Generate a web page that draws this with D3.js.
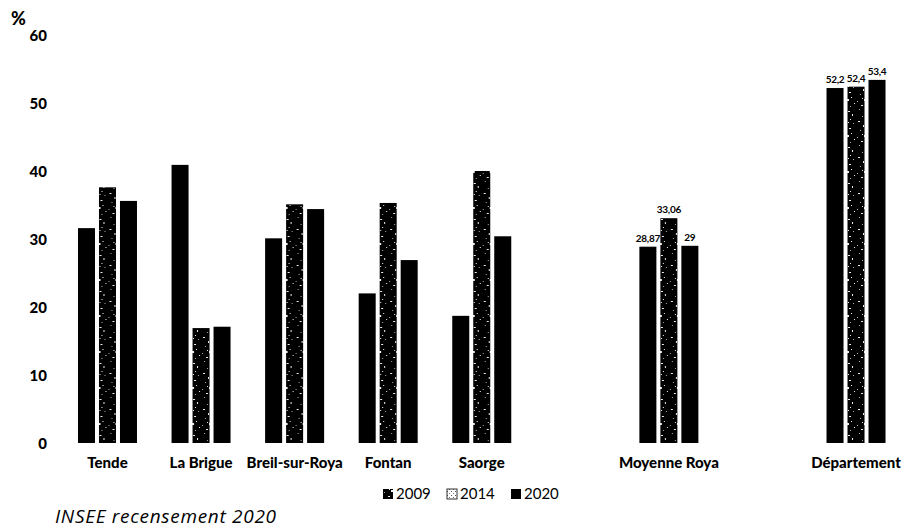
<!DOCTYPE html>
<html>
<head>
<meta charset="utf-8">
<script src="https://cdn.jsdelivr.net/npm/d3@7/dist/d3.min.js"></script>
<style>
  html, body { margin: 0; padding: 0; background: #fff; }
  svg { display: block; }
  .tick text { fill: #000; }
</style>
</head>
<body>
<svg id="chart" width="909" height="531"></svg>
<script>
// Category slots (empty strings leave a gap in the row)
const categories = ["Tende", "La Brigue", "Breil-sur-Roya", "Fontan", "Saorge", "", "Moyenne Roya", "", "Département"];
const seriesNames = ["2009", "2014", "2020"];
const values2009 = [31.6, 40.9, 30.1, 22.0, 18.7, null, 28.87, null, 52.2];
const values2014 = [37.6, 16.9, 35.1, 35.3, 40.0, null, 33.06, null, 52.4];
const values2020 = [35.6, 17.1, 34.4, 26.9, 30.4, null, 29, null, 53.4];
// Slots whose bars carry a value label
const labelledSlots = ["Moyenne Roya", "Département"];
const yTicks = [0, 10, 20, 30, 40, 50, 60];

const seriesValues = [values2009, values2014, values2020];
const fmt = v => String(v).replace(".", ",");

const svg = d3.select("#chart");
const FONT = "Lato, 'Open Sans', sans-serif";

// Speckled texture for the 2014 series: black ground with sparse light grains
const defs = svg.append("defs");
const speck = defs.append("pattern")
  .attr("id", "speck").attr("patternUnits", "userSpaceOnUse")
  .attr("width", 17).attr("height", 36);
speck.append("rect").attr("width", 17).attr("height", 36).attr("fill", "#000");
const grains = [
  [3,1,1,1],[9,3,2,1],[13,6,1,2],[6,8,1,1],[11,11,1,1],[2,13,2,1],
  [14,15,1,1],[7,17,1,2],[10,20,2,1],[4,22,1,1],[12,25,1,1],[8,27,2,2],
  [1,29,1,1],[15,31,1,1],[5,33,2,1],[11,34,1,1],[9,14,1,1],[6,26,1,1]
];
speck.selectAll("rect.g").data(grains).join("rect")
  .attr("class", "g")
  .attr("x", d => d[0]).attr("y", d => d[1])
  .attr("width", d => d[2]).attr("height", d => d[3])
  .attr("fill", (d, i) => i % 3 === 0 ? "#aaa" : "#eee");

const lightSpeck = defs.append("pattern")
  .attr("id", "lightSpeck").attr("patternUnits", "userSpaceOnUse")
  .attr("width", 4).attr("height", 4);
lightSpeck.append("rect").attr("width", 4).attr("height", 4).attr("fill", "#fff");
lightSpeck.append("rect").attr("x", 0).attr("y", 0).attr("width", 1).attr("height", 1).attr("fill", "#555");
lightSpeck.append("rect").attr("x", 2).attr("y", 2).attr("width", 1).attr("height", 1).attr("fill", "#777");

const fills = ["#000", "url(#speck)", "#000"];

// Scales
const x = d3.scaleBand()
  .domain(d3.range(categories.length))
  .range([60.7, 902.8])
  .padding(0);

const groupWidth = 59;
const xSub = d3.scaleBand()
  .domain(d3.range(seriesNames.length))
  .range([-groupWidth / 2, groupWidth / 2])
  .paddingInner(0.19)
  .paddingOuter(0);

const y = d3.scaleLinear().domain([0, 60]).range([443, 35]);

// Y axis (labels only)
const yAxis = svg.append("g")
  .attr("transform", "translate(47,0)")
  .call(d3.axisLeft(y).tickValues(yTicks).tickSize(0).tickPadding(0));
yAxis.select(".domain").remove();
yAxis.selectAll("text")
  .attr("font-family", FONT)
  .attr("font-weight", "900")
  .attr("font-size", 15)
  .attr("dy", "0.35em");

svg.append("text")
  .attr("x", 11).attr("y", 25)
  .attr("font-family", FONT)
  .attr("font-weight", "900")
  .attr("font-size", 18)
  .text("%");

// Bars
const groups = svg.append("g").selectAll("g")
  .data(categories.map((c, i) => ({ c, i })).filter(d => d.c !== ""))
  .join("g")
  .attr("transform", d => `translate(${x(d.i) + x.bandwidth() / 2},0)`);

groups.selectAll("rect")
  .data(d => seriesValues.map((vals, s) => ({ s, v: vals[d.i], c: d.c })))
  .join("rect")
  .attr("x", d => xSub(d.s))
  .attr("width", xSub.bandwidth())
  .attr("y", d => y(d.v))
  .attr("height", d => y(0) - y(d.v))
  .attr("fill", d => fills[d.s]);

// Value labels
groups.filter(d => labelledSlots.includes(d.c))
  .selectAll("text.val")
  .data(d => seriesValues.map((vals, s) => ({ s, v: vals[d.i] })))
  .join("text")
  .attr("class", "val")
  .attr("x", d => xSub(d.s) + xSub.bandwidth() / 2)
  .attr("y", d => y(d.v) - 5)
  .attr("text-anchor", "middle")
  .attr("font-family", FONT)
  .attr("font-weight", "bold")
  .attr("font-size", 10)
  .attr("letter-spacing", -0.3)
  .text(d => fmt(d.v));

// X axis (category names only)
const xAxis = svg.append("g")
  .attr("transform", "translate(0,457)")
  .call(d3.axisBottom(x).tickFormat(i => categories[i]).tickSize(0).tickPadding(0));
xAxis.select(".domain").remove();
xAxis.selectAll("text")
  .attr("font-family", FONT)
  .attr("font-weight", "900")
  .attr("font-size", 15)
  .attr("dy", "0.71em");

// Legend
const legendMarkerFill = ["url(#speck)", "url(#lightSpeck)", "#000"];
const legend = svg.append("g").attr("transform", "translate(383,499)");
const legendItems = legend.selectAll("g")
  .data(seriesNames)
  .join("g")
  .attr("transform", (d, i) => `translate(${i * 64},0)`);
legendItems.append("rect")
  .attr("x", 0).attr("y", -10)
  .attr("width", 10).attr("height", 10)
  .attr("fill", (d, i) => legendMarkerFill[i])
  .attr("stroke", (d, i) => i === 1 ? "#333" : "none")
  .attr("stroke-width", 1);
legendItems.append("text")
  .attr("x", 13).attr("y", 0)
  .attr("font-family", FONT)
  .attr("font-size", 15)
  .text(d => d);

// Source line
svg.append("text")
  .attr("x", 55).attr("y", 523)
  .attr("font-family", "'Open Sans', Lato, sans-serif")
  .attr("font-style", "italic")
  .attr("font-size", 19)
  .attr("letter-spacing", 0.7)
  .text("INSEE recensement 2020");
</script>
</body>
</html>
